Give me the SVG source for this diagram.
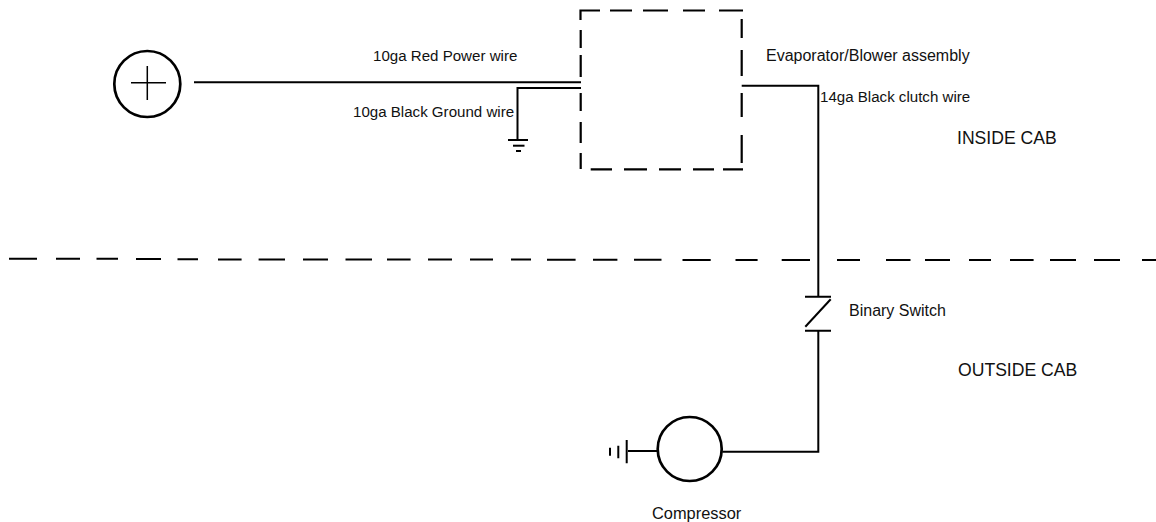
<svg xmlns="http://www.w3.org/2000/svg" width="1156" height="522" viewBox="0 0 1156 522">
<style>
.w{fill:none;stroke:#000;stroke-width:2}
.t{stroke:#000;stroke-width:1.5;fill:none}
.c{fill:none;stroke:#000;stroke-width:2.2}
.o{fill:none;stroke:#000;stroke-width:2.7}
.d{fill:none;stroke:#000;stroke-width:2}
text{font-family:"Liberation Sans",Arial,sans-serif;font-size:15.1px;fill:#111}
.m{font-size:16px}
.k{font-size:16.4px}
.b{font-size:17.6px}
</style>
<rect width="1156" height="522" fill="#fff"/>
<g id="connectors">
<path class="w" d="M194 82.3H581"/>
<path class="w" d="M581 88H517.5V140"/>
<path class="w" d="M741.7 85.7H818.3V296.7"/>
<path class="w" d="M818.3 330.7V451.7H722.3"/>
<path class="w" d="M628 451H657"/>
</g>
<g id="divider">
<path class="d" d="M9 258.7H37M56 258.8H80M96.5 258.8H118M136 258.9H161M177.5 259.3H198M218 259.4H241.6M258.6 259.4H285M303 259.4H328M345.5 259.5H372M387 259.5H410.6M428 259.6H452M470 259.6H493M511 259.6H531M547 259.7H575.6M593 259.8H617.4M634 259.8H661.5M682.5 260H710.7M735.5 260H757.6M781.7 260H810M837 260H860M886 260H910.5M925 260H950M969 260H991M1010 260H1033.6M1050 260H1076M1094 260H1120M1142 260H1156"/>
</g>
<g id="evaporator">
<path class="c" d="M580.5 20V10.5H600M610 10.5H632M643 10.5H668M683 10.5H705M719 10.5H743M741.7 19V38M741.7 50V76M741.7 93V117M741.7 135V163M743 169.3H723M714 169.3H693M681 169.3H659M647 169.3H624M612 169.3H590.7M580.7 169V153M580.7 143V122M580.7 111V93M580.7 77V55M580.7 48V30"/>
<text class="m" x="766" y="61">Evaporator/Blower assembly</text>
</g>
<g id="power">
<circle class="o" cx="147.3" cy="84" r="33"/>
<path class="t" d="M131 82.7H166M147.3 66V100"/>
</g>
<g id="ground">
<path class="w" d="M508 140H528"/>
<path class="w" d="M513 145.7H524.5"/>
<path class="w" d="M516 151H521"/>
</g>
<g id="binary-switch">
<path class="w" d="M805 296.7H831M805 330.7H831"/>
<path class="w" d="M830.7 299.3L805.3 326.7"/>
<text class="m" x="849" y="316">Binary Switch</text>
</g>
<g id="compressor">
<circle class="o" cx="689.7" cy="449" r="32"/>
<path class="w" d="M626.7 440V463.3M618.3 445.7V458.3M610 447.7V455.7"/>
<text class="k" x="652" y="519">Compressor</text>
</g>
<g id="labels">
<text x="373" y="61">10ga Red Power wire</text>
<text x="353" y="117">10ga Black Ground wire</text>
<text x="820" y="102">14ga Black clutch wire</text>
<text class="b" x="957" y="144">INSIDE CAB</text>
<text class="b" x="958" y="376">OUTSIDE CAB</text>
</g>
</svg>
